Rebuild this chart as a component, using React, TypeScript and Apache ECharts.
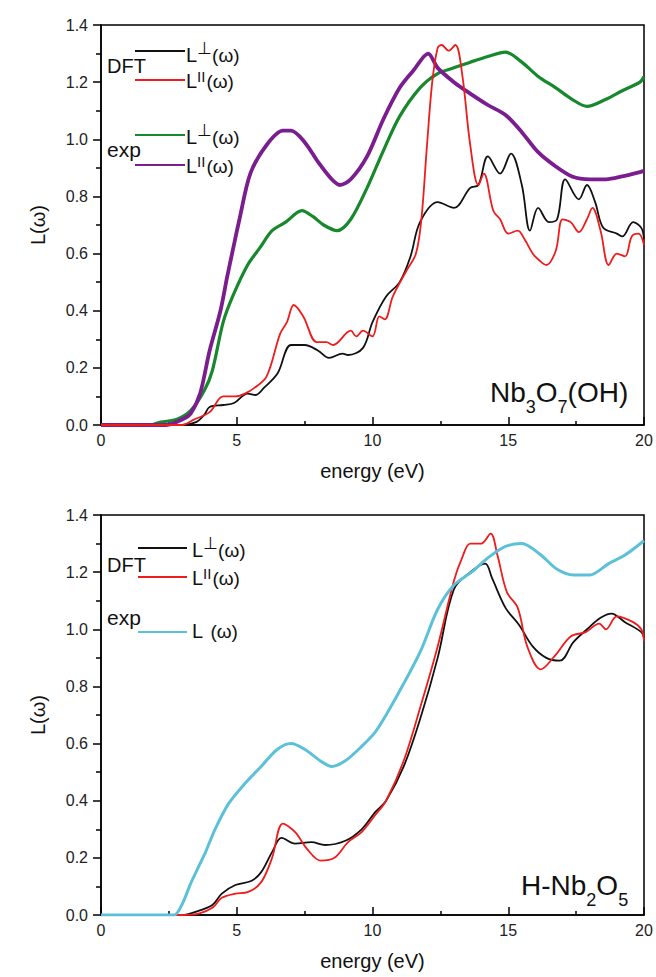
import React, { useEffect, useRef } from "react";
import * as echarts from "echarts";

const FONT = '"Liberation Sans", Arial, Helvetica, sans-serif';

type Pt = [number, number];

// ---- Nb3O7(OH): energy (eV) vs. loss function L(ω) ----
const nbOhDftPerp: Pt[] = [
  [0, 0], [3.0, 0], [3.5, 0.01], [3.8, 0.035], [4.0, 0.063], [4.5, 0.07], [4.9, 0.077],
  [5.4, 0.11], [5.7, 0.105], [6.0, 0.13], [6.5, 0.18], [7.0, 0.28], [7.5, 0.28],
  [8.0, 0.26], [8.4, 0.235], [8.9, 0.25], [9.1, 0.245], [9.65, 0.27], [10.0, 0.36],
  [10.5, 0.45], [11.0, 0.5], [11.4, 0.59], [11.75, 0.71], [12.4, 0.78], [13.0, 0.76],
  [13.6, 0.83], [13.9, 0.84], [14.25, 0.94], [14.7, 0.88], [15.1, 0.95], [15.5, 0.84],
  [15.8, 0.68], [16.1, 0.76], [16.5, 0.71], [16.8, 0.72], [17.1, 0.86], [17.6, 0.79],
  [17.9, 0.84], [18.2, 0.78], [18.5, 0.69], [19.0, 0.67], [19.2, 0.66], [19.6, 0.71],
  [19.9, 0.69], [20, 0.65],
];
const nbOhDftPar: Pt[] = [
  [0, 0], [3.0, 0], [3.4, 0.018], [4.0, 0.045], [4.5, 0.1], [4.95, 0.1], [5.3, 0.11],
  [5.65, 0.13], [6.1, 0.17], [6.6, 0.32], [6.85, 0.36], [7.1, 0.42], [7.45, 0.38],
  [7.95, 0.29], [8.3, 0.29], [8.55, 0.28], [9.2, 0.33], [9.4, 0.31], [9.65, 0.33],
  [10.0, 0.31], [10.25, 0.38], [10.45, 0.37], [10.75, 0.45], [11.25, 0.54], [11.6, 0.6],
  [11.8, 0.72], [12.0, 0.97], [12.2, 1.2], [12.4, 1.32], [12.55, 1.33], [12.8, 1.31],
  [13.05, 1.33], [13.3, 1.23], [13.6, 0.98], [13.9, 0.84], [14.1, 0.88], [14.45, 0.75],
  [14.7, 0.72], [15.0, 0.67], [15.35, 0.68], [15.6, 0.65], [15.9, 0.6], [16.1, 0.58],
  [16.4, 0.56], [16.75, 0.61], [17.0, 0.72], [17.3, 0.71], [17.6, 0.675], [17.9, 0.72],
  [18.1, 0.76], [18.4, 0.68], [18.7, 0.56], [19.0, 0.6], [19.3, 0.59], [19.55, 0.66],
  [19.8, 0.67], [20, 0.63],
];
const nbOhExpPerp: Pt[] = [
  [0, 0], [1.8, 0], [2.2, 0.01], [2.8, 0.02], [3.3, 0.05], [3.8, 0.12], [4.1, 0.19],
  [4.5, 0.36], [4.85, 0.45], [5.4, 0.56], [5.85, 0.62], [6.3, 0.68], [6.8, 0.71],
  [7.4, 0.75], [7.8, 0.73], [8.2, 0.7], [8.7, 0.68], [9.2, 0.72], [9.8, 0.83],
  [10.4, 0.96], [11.0, 1.08], [11.75, 1.18], [12.4, 1.23], [13.0, 1.25], [13.6, 1.27],
  [14.25, 1.29], [14.9, 1.305], [15.5, 1.27], [16.1, 1.22], [16.75, 1.18], [17.35, 1.14],
  [17.9, 1.115], [18.6, 1.14], [19.2, 1.17], [19.85, 1.2], [20, 1.22],
];
const nbOhExpPar: Pt[] = [
  [0, 0], [2.4, 0], [3.0, 0.02], [3.3, 0.04], [3.65, 0.11], [4.0, 0.26], [4.4, 0.4],
  [4.65, 0.52], [4.85, 0.61], [5.1, 0.72], [5.5, 0.88], [6.1, 0.98], [6.7, 1.03],
  [7.0, 1.03], [7.5, 0.99], [8.0, 0.92], [8.5, 0.86], [8.8, 0.84], [9.2, 0.86],
  [9.8, 0.94], [10.4, 1.07], [11.0, 1.18], [11.5, 1.24], [12.05, 1.3], [12.4, 1.25],
  [13.0, 1.2], [13.6, 1.16], [14.25, 1.12], [14.9, 1.085], [15.5, 1.025], [16.1, 0.955],
  [16.75, 0.905], [17.35, 0.87], [18.0, 0.86], [18.6, 0.86], [19.2, 0.87], [19.85, 0.885],
  [20, 0.89],
];

// ---- H-Nb2O5 ----
const hNbDftPerp: Pt[] = [
  [0, 0], [3.0, 0], [3.45, 0.01], [4.1, 0.035], [4.45, 0.075], [4.95, 0.105], [5.55, 0.12],
  [5.9, 0.15], [6.3, 0.22], [6.65, 0.27], [7.15, 0.25], [7.75, 0.255], [8.25, 0.245],
  [9.0, 0.26], [9.6, 0.3], [10.1, 0.36], [10.5, 0.4], [11.15, 0.52], [11.8, 0.7],
  [12.4, 0.9], [13.0, 1.14], [13.6, 1.2], [14.15, 1.23], [14.4, 1.18], [14.9, 1.075],
  [15.4, 1.015], [15.9, 0.94], [16.4, 0.9], [16.9, 0.89], [17.4, 0.955], [17.9, 1.0],
  [18.4, 1.04], [18.8, 1.055], [19.3, 1.025], [19.9, 0.99], [20, 0.97],
];
const hNbDftPar: Pt[] = [
  [0, 0], [3.0, 0], [3.6, 0.005], [4.1, 0.025], [4.45, 0.06], [4.95, 0.075], [5.4, 0.08],
  [5.9, 0.115], [6.3, 0.2], [6.7, 0.32], [7.15, 0.29], [7.6, 0.23], [8.1, 0.19],
  [8.6, 0.2], [9.1, 0.255], [9.6, 0.29], [10.1, 0.35], [10.5, 0.4], [11.15, 0.54],
  [11.8, 0.74], [12.4, 0.94], [13.0, 1.17], [13.3, 1.25], [13.6, 1.3], [14.0, 1.3],
  [14.35, 1.335], [14.6, 1.26], [14.95, 1.13], [15.35, 1.075], [15.7, 0.94], [16.2, 0.86],
  [16.7, 0.905], [17.3, 0.975], [17.85, 0.99], [18.35, 1.02], [18.6, 1.0], [19.0, 1.045],
  [19.6, 1.025], [19.9, 1.0], [20, 0.96],
];
const hNbExp: Pt[] = [
  [0, 0], [2.2, 0], [2.7, 0.0], [3.0, 0.04], [3.3, 0.11], [3.6, 0.17], [3.85, 0.22],
  [4.2, 0.3], [4.7, 0.39], [5.3, 0.46], [5.9, 0.52], [6.5, 0.58], [7.0, 0.6], [7.5, 0.58],
  [8.15, 0.535], [8.5, 0.52], [9.0, 0.54], [9.6, 0.59], [10.1, 0.64], [10.5, 0.7],
  [11.15, 0.81], [11.8, 0.93], [12.4, 1.07], [13.0, 1.155], [13.65, 1.2], [14.25, 1.25],
  [14.9, 1.29], [15.5, 1.3], [16.2, 1.26], [16.8, 1.21], [17.4, 1.19], [18.0, 1.19],
  [18.7, 1.23], [19.3, 1.26], [20, 1.31],
];

// axis ranges and steps
const energyRange = [0, 20];
const energyStep = 5;
const lossRange = [0, 1.4];
const lossStep = 0.2;

const BLACK = "#111111";
const RED = "#ee1c1c";
const GREEN = "#17882c";
const PURPLE = "#7a1d8e";
const CYAN = "#5cc1d8";

type Part = { text: string; size: number; dx?: number; dy?: number };

// Lays out a run of text pieces (super/subscripts) left to right from a baseline.
function textRun(ctx: CanvasRenderingContext2D, x: number, baseline: number, parts: Part[], color: string) {
  const out: any[] = [];
  let cx = x;
  for (const p of parts) {
    ctx.font = `${p.size}px ${FONT}`;
    const w = ctx.measureText(p.text).width;
    const px = cx + (p.dx || 0);
    out.push({
      type: "text",
      x: px,
      y: baseline + (p.dy || 0) - 0.35 * p.size,
      silent: true,
      style: {
        text: p.text,
        fontSize: p.size,
        fontFamily: FONT,
        fill: color,
        align: "left",
        verticalAlign: "middle",
        textAlign: "left",
        textVerticalAlign: "middle",
      },
    });
    cx = px + w;
  }
  return out;
}

const perpLabel: Part[] = [
  { text: "L", size: 20 },
  { text: "⊥", size: 17, dx: 0, dy: -8 },
  { text: "(ω)", size: 19, dx: 0 },
];
const parLabel: Part[] = [
  { text: "L", size: 20 },
  { text: "II", size: 15, dx: 0, dy: -6 },
  { text: "(ω)", size: 19, dx: 1 },
];
const plainLabel: Part[] = [
  { text: "L", size: 20 },
  { text: " (ω)", size: 19, dx: 2 },
];

function legendLine(x1: number, x2: number, y: number, color: string) {
  return {
    type: "line",
    silent: true,
    shape: { x1, y1: y, x2, y2: y },
    style: { stroke: color, lineWidth: 1.8 },
  };
}

function makeXAxis(gridIndex: number) {
  return {
    type: "value",
    gridIndex,
    min: energyRange[0],
    max: energyRange[1],
    interval: energyStep,
    name: "energy (eV)",
    nameLocation: "middle",
    nameGap: 36,
    nameTextStyle: { fontSize: 20, fontFamily: FONT, color: "#111" },
    axisLine: { show: true, onZero: false, lineStyle: { color: "#000", width: 1.5 } },
    axisTick: { show: true, inside: true, length: 8, lineStyle: { color: "#000", width: 1.5 } },
    minorTick: { show: true, splitNumber: 2, length: 4, lineStyle: { color: "#000", width: 1.5 } },
    splitLine: { show: false },
    minorSplitLine: { show: false },
    axisLabel: { fontSize: 16, fontFamily: FONT, color: "#222", margin: 7 },
  };
}

function makeYAxis(gridIndex: number) {
  return {
    type: "value",
    gridIndex,
    min: lossRange[0],
    max: lossRange[1],
    interval: lossStep,
    name: "L(ω)",
    nameLocation: "middle",
    nameRotate: 90,
    nameGap: 53,
    nameTextStyle: { fontSize: 20, fontFamily: FONT, color: "#111" },
    axisLine: { show: true, onZero: false, lineStyle: { color: "#000", width: 1.5 } },
    axisTick: { show: true, inside: false, length: 8, lineStyle: { color: "#000", width: 1.5 } },
    minorTick: { show: true, splitNumber: 2, length: 5, lineStyle: { color: "#000", width: 1.5 } },
    splitLine: { show: false },
    minorSplitLine: { show: false },
    axisLabel: {
      fontSize: 16,
      fontFamily: FONT,
      color: "#222",
      margin: 13,
      formatter: (v: number) => v.toFixed(1),
    },
  };
}

function lineSeries(axisIndex: number, data: Pt[], color: string, width: number, z: number, smooth = 0.35) {
  return {
    type: "line",
    xAxisIndex: axisIndex,
    yAxisIndex: axisIndex,
    data,
    showSymbol: false,
    symbol: "none",
    smooth,
    z,
    lineStyle: { color, width },
    itemStyle: { color },
  };
}

export default function App() {
  const ref = useRef<HTMLDivElement>(null);

  useEffect(() => {
    if (!ref.current) return;
    const chart = echarts.init(ref.current, undefined, { renderer: "svg" });
    const canvas = document.createElement("canvas");
    const ctx = canvas.getContext("2d") as CanvasRenderingContext2D;

    const graphics: any[] = [
      // upper panel legend
      ...textRun(ctx, 107, 73, [{ text: "DFT", size: 20 }], "#111"),
      legendLine(135, 185, 51, BLACK),
      legendLine(135, 185, 80, RED),
      ...textRun(ctx, 186, 62, perpLabel, "#111"),
      ...textRun(ctx, 186, 88, parLabel, "#111"),
      ...textRun(ctx, 107, 157, [{ text: "exp", size: 21 }], "#111"),
      legendLine(135, 185, 135, GREEN),
      legendLine(135, 185, 165, PURPLE),
      ...textRun(ctx, 186, 144, perpLabel, "#111"),
      ...textRun(ctx, 186, 173, parLabel, "#111"),
      // upper panel compound name
      ...textRun(
        ctx,
        490,
        402,
        [
          { text: "Nb", size: 28 },
          { text: "3", size: 18, dy: 11 },
          { text: "O", size: 28 },
          { text: "7", size: 18, dy: 11 },
          { text: "(OH)", size: 28 },
        ],
        "#111"
      ),
      // lower panel legend
      ...textRun(ctx, 107, 572, [{ text: "DFT", size: 20 }], "#111"),
      legendLine(138, 187, 548, BLACK),
      legendLine(138, 187, 577, RED),
      ...textRun(ctx, 192, 557, perpLabel, "#111"),
      ...textRun(ctx, 192, 585, parLabel, "#111"),
      ...textRun(ctx, 107, 625, [{ text: "exp", size: 21 }], "#111"),
      legendLine(138, 187, 632, CYAN),
      ...textRun(ctx, 192, 638, plainLabel, "#111"),
      // lower panel compound name
      ...textRun(
        ctx,
        521,
        895,
        [
          { text: "H-Nb", size: 28 },
          { text: "2", size: 18, dy: 11 },
          { text: "O", size: 28 },
          { text: "5", size: 18, dy: 11 },
        ],
        "#111"
      ),
    ];

    chart.setOption({
      animation: false,
      backgroundColor: "#ffffff",
      grid: [
        { left: 101, top: 25, width: 543, height: 400, show: true, borderColor: "#000", borderWidth: 1.5, backgroundColor: "transparent" },
        { left: 101, top: 515, width: 543, height: 400, show: true, borderColor: "#000", borderWidth: 1.5, backgroundColor: "transparent" },
      ],
      xAxis: [makeXAxis(0), makeXAxis(1)],
      yAxis: [makeYAxis(0), makeYAxis(1)],
      series: [
        lineSeries(0, nbOhExpPerp, GREEN, 3.2, 2, 0.3),
        lineSeries(0, nbOhExpPar, PURPLE, 3.8, 3, 0.3),
        lineSeries(0, nbOhDftPerp, BLACK, 1.8, 4),
        lineSeries(0, nbOhDftPar, RED, 1.8, 5),
        lineSeries(1, hNbDftPerp, BLACK, 1.8, 3),
        lineSeries(1, hNbDftPar, RED, 1.8, 4),
        lineSeries(1, hNbExp, CYAN, 3, 5, 0.3),
      ],
      graphic: graphics,
    });

    return () => chart.dispose();
  }, []);

  return (
    <div
      ref={ref}
      style={{ position: "absolute", left: 0, top: 0, width: 656, height: 977, background: "#fff" }}
    />
  );
}
